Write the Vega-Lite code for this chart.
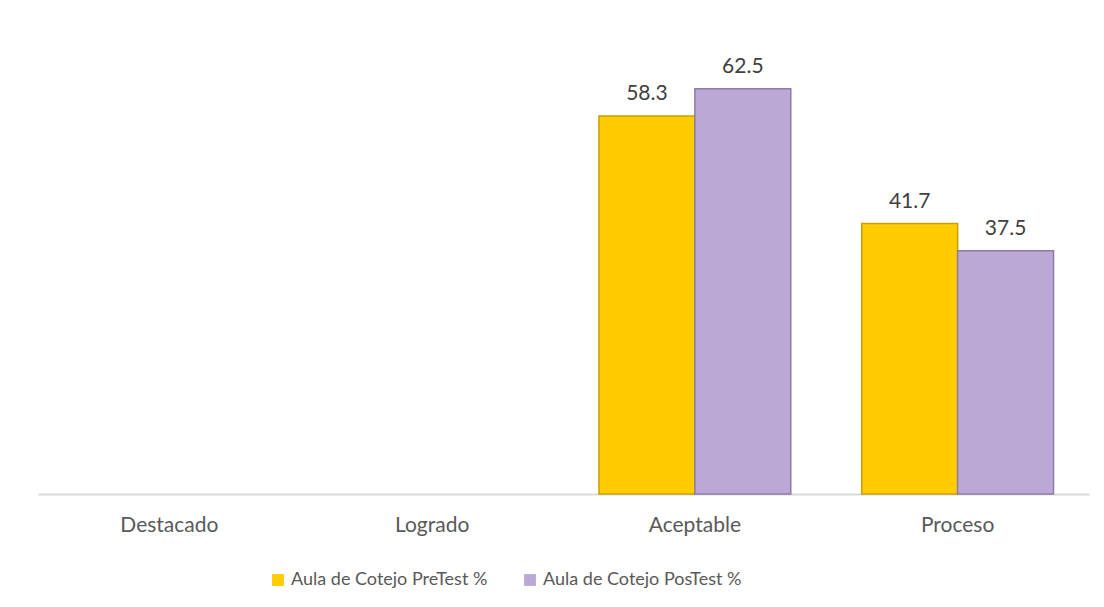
{
  "$schema": "https://vega.github.io/schema/vega-lite/v6.json",
  "width": 1051,
  "height": 454,
  "autosize": {"type": "none"},
  "padding": {"left": 38, "top": 40, "right": 15, "bottom": 113},
  "background": "white",
  "config": {
    "view": {"stroke": null},
    "font": "Lato"
  },
  "data": {
    "values": [
      {"nivel": "Destacado", "serie": "Aula de Cotejo PreTest %", "valor": 0},
      {"nivel": "Destacado", "serie": "Aula de Cotejo PosTest %", "valor": 0},
      {"nivel": "Logrado", "serie": "Aula de Cotejo PreTest %", "valor": 0},
      {"nivel": "Logrado", "serie": "Aula de Cotejo PosTest %", "valor": 0},
      {"nivel": "Aceptable", "serie": "Aula de Cotejo PreTest %", "valor": 58.3},
      {"nivel": "Aceptable", "serie": "Aula de Cotejo PosTest %", "valor": 62.5},
      {"nivel": "Proceso", "serie": "Aula de Cotejo PreTest %", "valor": 41.7},
      {"nivel": "Proceso", "serie": "Aula de Cotejo PosTest %", "valor": 37.5}
    ]
  },
  "transform": [{"filter": "datum.valor > 0"}],
  "encoding": {
    "x": {
      "field": "nivel",
      "type": "nominal",
      "scale": {
        "domain": ["Destacado", "Logrado", "Aceptable", "Proceso"],
        "paddingInner": 0.27,
        "paddingOuter": 0.135
      },
      "axis": {
        "title": null,
        "labelAngle": 0,
        "labelFontSize": 21,
        "labelColor": "#595959",
        "labelPadding": 20,
        "ticks": false,
        "domainColor": "#D9D9D9",
        "domainWidth": 2,
        "grid": false
      }
    },
    "xOffset": {
      "field": "serie",
      "type": "nominal",
      "scale": {
        "domain": ["Aula de Cotejo PreTest %", "Aula de Cotejo PosTest %"],
        "paddingInner": 0,
        "paddingOuter": 0
      }
    },
    "y": {
      "field": "valor",
      "type": "quantitative",
      "scale": {"domain": [0, 70]},
      "axis": null
    }
  },
  "layer": [
    {
      "mark": {"type": "bar", "strokeWidth": 1.5},
      "encoding": {
        "color": {
          "field": "serie",
          "type": "nominal",
          "scale": {
            "domain": ["Aula de Cotejo PreTest %", "Aula de Cotejo PosTest %"],
            "range": ["#FFCC00", "#BBA8D4"]
          },
          "legend": {
            "title": null,
            "orient": "none",
            "legendX": 231,
            "legendY": 531,
            "direction": "horizontal",
            "symbolType": "square",
            "symbolSize": 140,
            "symbolStrokeWidth": 0,
            "labelFontSize": 18,
            "labelColor": "#595959",
            "labelOffset": 4,
            "labelLimit": 0,
            "columnPadding": 33
          }
        },
        "stroke": {
          "field": "serie",
          "type": "nominal",
          "scale": {
            "domain": ["Aula de Cotejo PreTest %", "Aula de Cotejo PosTest %"],
            "range": ["#C99E00", "#8E7BA6"]
          },
          "legend": null
        }
      }
    },
    {
      "mark": {
        "type": "text",
        "baseline": "alphabetic",
        "dy": -16,
        "fontSize": 21,
        "color": "#404040"
      },
      "encoding": {
        "text": {"field": "valor", "type": "quantitative", "format": ".1f"}
      }
    }
  ]
}
